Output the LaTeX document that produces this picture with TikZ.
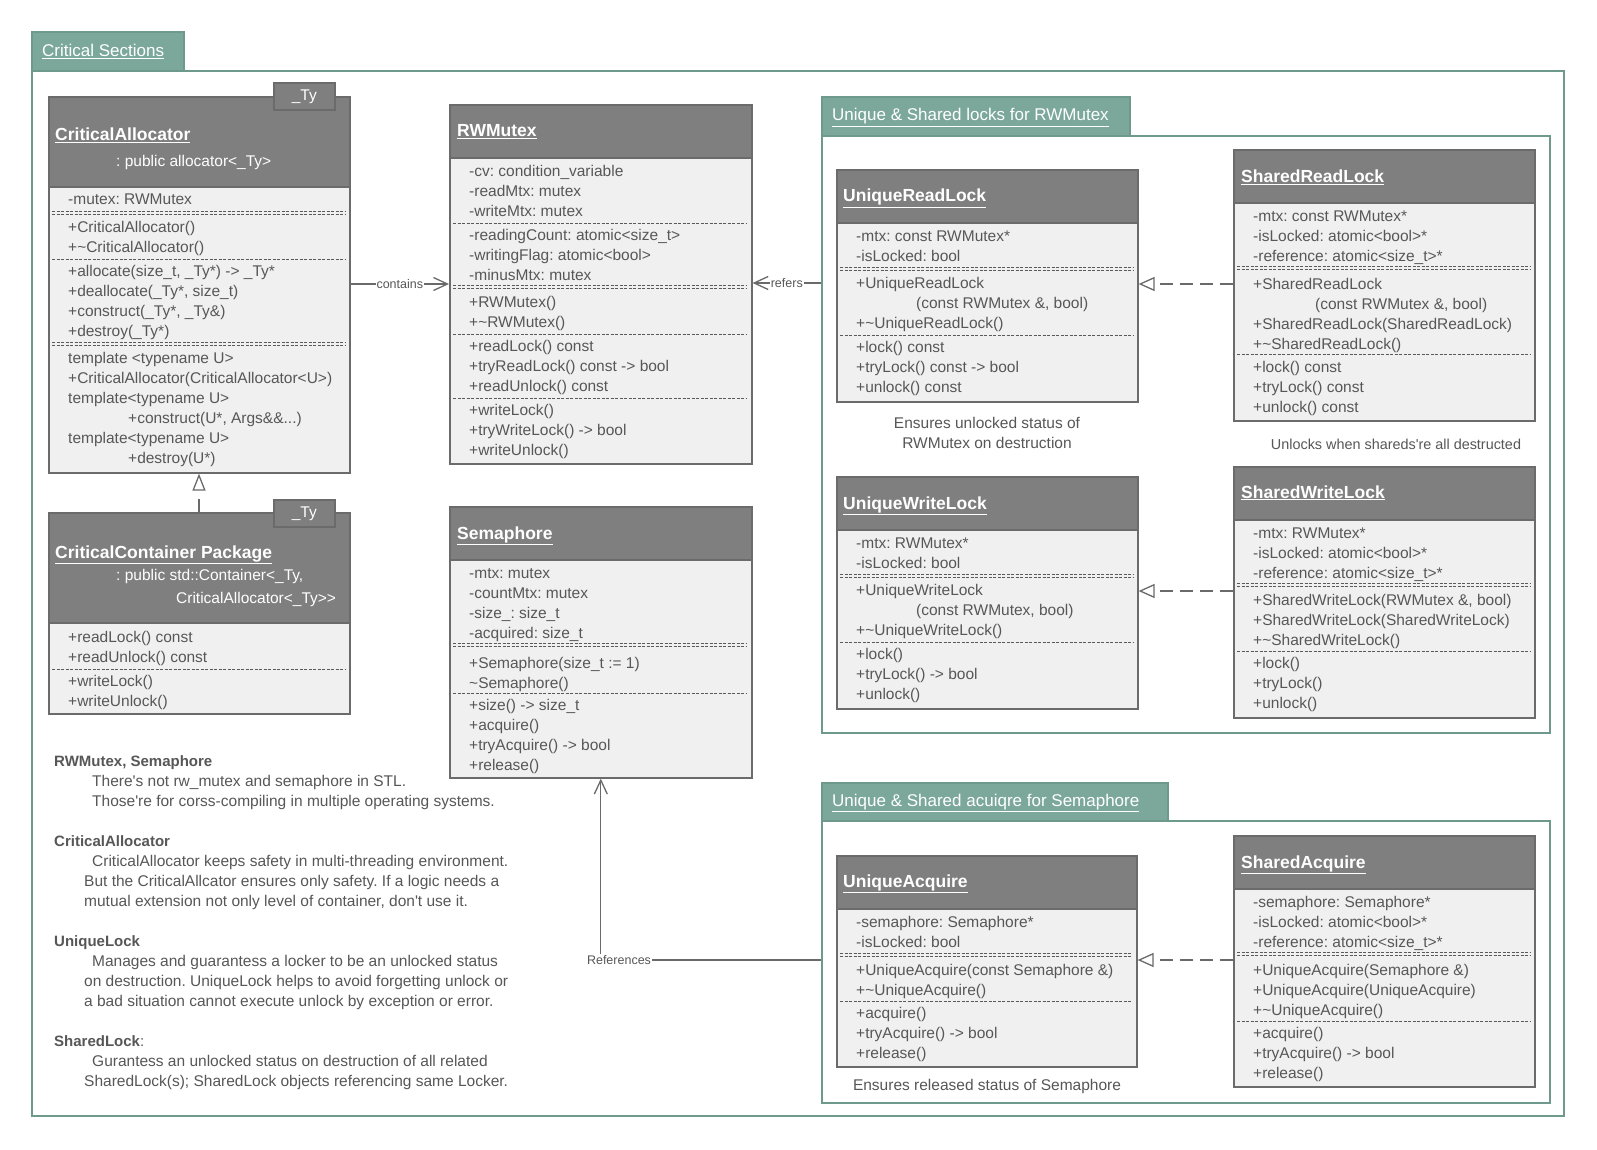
\documentclass[tikz,border=0pt]{standalone}
\usepackage{fontspec}
\setmainfont{Liberation Sans}
\usetikzlibrary{arrows.meta}
\frenchspacing
\definecolor{hdrgray}{HTML}{7F7F7F}
\definecolor{bodygray}{HTML}{F0F0F0}
\definecolor{boxline}{HTML}{6B6B6B}
\definecolor{txtgray}{HTML}{575757}
\definecolor{sepgray}{HTML}{5A5A5A}
\definecolor{conngray}{HTML}{6A6A6A}
\definecolor{tabfill}{HTML}{7BA89B}
\definecolor{frameline}{HTML}{6E9A8D}
\newcommand\fBody{\fontsize{15.5}{18}\selectfont\frenchspacing}
\newcommand\fTitle{\fontsize{17.5}{20}\selectfont\bfseries}
\newcommand\fTab{\fontsize{17}{20}\selectfont}
\newcommand\fLbl{\fontsize{12.5}{14}\selectfont}
\newcommand\fNoteHd{\fontsize{15}{18}\selectfont\bfseries}
\newcommand\fSmall{\fontsize{14.4}{17}\selectfont\frenchspacing}
\tikzset{
 hdrbox/.style={draw=boxline, fill=hdrgray, line width=1.6pt, inner sep=0pt, anchor=north west},
 bodybox/.style={draw=boxline, fill=bodygray, line width=1.6pt, inner sep=0pt, anchor=north west},
 rowtxt/.style={anchor=base west, inner sep=0pt, text=txtgray, font=\fBody},
 ttl/.style={anchor=base west, inner sep=0pt, text=white, font=\fTitle},
 subttl/.style={anchor=base west, inner sep=0pt, text=white, font=\fBody},
 tytab/.style={draw=boxline, fill=hdrgray, line width=1.6pt, inner sep=0pt, text=white, font=\fBody, anchor=north west, minimum width=61pt, minimum height=27pt},
 grpframe/.style={draw=frameline, fill=white, line width=1.6pt, inner sep=0pt, anchor=north west},
 grptab/.style={draw=frameline, fill=tabfill, line width=1.6pt, inner sep=0pt, anchor=north west},
 tabtxt/.style={anchor=base west, inner sep=0pt, text=white, font=\fTab},
 sepline/.style={draw=sepgray, line width=0.9pt, dash pattern=on 3pt off 1.5pt},
 conn/.style={draw=conngray, line width=1.3pt},
 assoc/.style={conn, -{Straight Barb[length=14pt,width=13pt]}},
 realize/.style={conn, dash pattern=on 13pt off 7pt, -{Triangle[open,length=16pt,width=14pt]}},
 realizev/.style={conn, dash pattern=on 13pt off 9pt, -{Triangle[open,length=17pt,width=13pt]}},
 lbl/.style={fill=white, inner sep=1pt, text=txtgray, font=\fLbl},
 note/.style={anchor=base west, inner sep=0pt, text=txtgray, font=\fBody},
 notehd/.style={anchor=base west, inner sep=0pt, text=txtgray, font=\fNoteHd},
 cmt/.style={anchor=base, inner sep=0pt, text=txtgray, font=\fBody},
}
% name, left, top, right, header bottom, bottom
\newcommand\umlclass[6]{%
  \node[hdrbox, minimum width={(#4-#2)*1pt}, minimum height={(#5-#3)*1pt}] (#1-h) at (#2,#3) {};
  \node[bodybox, minimum width={(#4-#2)*1pt}, minimum height={(#6-#5)*1pt}] (#1-b) at (#2,#5) {};
}
% prefix, x, first centre y, list
\newcommand\rowlist[4]{%
  \foreach \rtx [count=\ri] in {#4} {
    \node[rowtxt] (#1-\ri) at (#2, {#3+20*(\ri-1)+5.5}) {\rtx};
  }
}
\newcommand\sepA[3]{\draw[sepline] ({#1+4},#3) -- ({#2-4},#3);}
\newcommand\sepB[3]{\draw[sepline] ({#1+4},{#3-1.6}) -- ({#2-4},{#3-1.6});
  \draw[sepline] ({#1+4},{#3+1.6}) -- ({#2-4},{#3+1.6});}
\begin{document}
\begin{tikzpicture}[x=1pt,y=-1pt]
\useasboundingbox (0,0) rectangle (1597,1150);
\fill[white] (0,0) rectangle (1597,1150);

% outer frame
\node[grpframe, minimum width=1532pt, minimum height=1045pt] (cs) at (31,70) {};
\node[grptab, minimum width=152pt, minimum height=39pt] (cs-tab) at (31,31) {};
\node[tabtxt] (cs-t) at (42,57) {\underline{Critical Sections}};

% group 1
\node[grpframe, minimum width=728pt, minimum height=597pt] (g1) at (821,135) {};
\node[grptab, minimum width=308pt, minimum height=39pt] (g1-tab) at (821,96) {};
\node[tabtxt] (g1-t) at (832,121) {\underline{Unique \& Shared locks for RWMutex}};

% group 2
\node[grpframe, minimum width=728pt, minimum height=282pt] (g2) at (821,820) {};
\node[grptab, minimum width=346pt, minimum height=38pt] (g2-tab) at (821,782) {};
\node[tabtxt] (g2-t) at (832,806) {\underline{Unique \& Shared acuiqre for Semaphore}};

% CriticalAllocator
\umlclass{ca}{48}{96}{349}{186}{472}
\node[tytab] (ca-ty) at (273,82) {\_Ty};
\node[ttl] (ca-n) at (55,141) {\underline{CriticalAllocator}};
\node[subttl] (ca-s) at (116,166.5) {: public allocator<\_Ty>};
\rowlist{ca1}{68}{199}{{-mutex: RWMutex}}
\sepB{48}{349}{213}
\rowlist{ca2}{68}{227}{{+CriticalAllocator()},{+\textasciitilde CriticalAllocator()}}
\sepA{48}{349}{259}
\rowlist{ca3}{68}{271}{{+allocate(size\_t, \_Ty*) -> \_Ty*},{+deallocate(\_Ty*, size\_t)},{+construct(\_Ty*, \_Ty\&)},{+destroy(\_Ty*)}}
\sepB{48}{349}{344}
\rowlist{ca4}{68}{358}{{template <typename U>},{+CriticalAllocator(CriticalAllocator<U>)},{template<typename U>},{\hspace*{60pt}+construct(U*, Args\&\&.{}.{}.)},{template<typename U>},{\hspace*{60pt}+destroy(U*)}}

% CriticalContainer
\umlclass{cc}{48}{512}{349}{622}{713}
\node[tytab] (cc-ty) at (273,499) {\_Ty};
\node[ttl] (cc-n) at (55,558) {\underline{CriticalContainer Package}};
\node[subttl] (cc-s1) at (116,580.5) {: public std::Container<\_Ty,};
\node[subttl] (cc-s2) at (176,603.5) {CriticalAllocator<\_Ty>{}>};
\rowlist{cc1}{68}{637}{{+readLock() const},{+readUnlock() const}}
\sepA{48}{349}{669}
\rowlist{cc2}{68}{681}{{+writeLock()},{+writeUnlock()}}

% RWMutex
\umlclass{rw}{449}{104}{751}{157}{463}
\node[ttl] (rw-n) at (457,137) {\underline{RWMutex}};
\rowlist{rw1}{469}{171}{{-cv: condition\_variable},{-readMtx: mutex},{-writeMtx: mutex}}
\sepA{449}{751}{223}
\rowlist{rw2}{469}{235}{{-readingCount: atomic<size\_t>},{-writingFlag: atomic<bool>},{-minusMtx: mutex}}
\sepB{449}{751}{287}
\rowlist{rw3}{469}{302}{{+RWMutex()},{+\textasciitilde RWMutex()}}
\sepA{449}{751}{334}
\rowlist{rw4}{469}{346}{{+readLock() const},{+tryReadLock() const -> bool},{+readUnlock() const}}
\sepA{449}{751}{398}
\rowlist{rw5}{469}{410}{{+writeLock()},{+tryWriteLock() -> bool},{+writeUnlock()}}

% Semaphore
\umlclass{sem}{449}{506}{751}{559}{777}
\node[ttl] (sem-n) at (457,539) {\underline{Semaphore}};
\rowlist{sem1}{469}{573}{{-mtx: mutex},{-countMtx: mutex},{-size\_: size\_t},{-acquired: size\_t}}
\sepB{449}{751}{645}
\rowlist{sem2}{469}{663}{{+Semaphore(size\_t := 1)},{\textasciitilde Semaphore()}}
\sepA{449}{751}{693}
\rowlist{sem3}{469}{705}{{+size() -> size\_t},{+acquire()},{+tryAcquire() -> bool},{+release()}}

% UniqueReadLock
\umlclass{url}{836}{169}{1137}{222}{401}
\node[ttl] (url-n) at (843,202) {\underline{UniqueReadLock}};
\rowlist{url1}{856}{236}{{-mtx: const RWMutex*},{-isLocked: bool}}
\sepB{836}{1137}{269}
\rowlist{url2}{856}{283}{{+UniqueReadLock},{\hspace*{60pt}(const RWMutex \&, bool)},{+\textasciitilde UniqueReadLock()}}
\sepA{836}{1137}{335}
\rowlist{url3}{856}{347}{{+lock() const},{+tryLock() const -> bool},{+unlock() const}}

% SharedReadLock
\umlclass{srl}{1233}{149}{1534}{202}{420}
\node[ttl] (srl-n) at (1241,183) {\underline{SharedReadLock}};
\rowlist{srl1}{1253}{216}{{-mtx: const RWMutex*},{-isLocked: atomic<bool>*},{-reference: atomic<size\_t>*}}
\sepB{1233}{1534}{268}
\rowlist{srl2}{1253}{284}{{+SharedReadLock},{\hspace*{62pt}(const RWMutex \&, bool)},{+SharedReadLock(SharedReadLock)},{+\textasciitilde SharedReadLock()}}
\sepA{1233}{1534}{354}
\rowlist{srl3}{1253}{367}{{+lock() const},{+tryLock() const},{+unlock() const}}

% UniqueWriteLock
\umlclass{uwl}{836}{476}{1137}{529}{708}
\node[ttl] (uwl-n) at (843,509) {\underline{UniqueWriteLock}};
\rowlist{uwl1}{856}{543}{{-mtx: RWMutex*},{-isLocked: bool}}
\sepB{836}{1137}{576}
\rowlist{uwl2}{856}{590}{{+UniqueWriteLock},{\hspace*{60pt}(const RWMutex, bool)},{+\textasciitilde UniqueWriteLock()}}
\sepA{836}{1137}{642}
\rowlist{uwl3}{856}{654}{{+lock()},{+tryLock() -> bool},{+unlock()}}

% SharedWriteLock
\umlclass{swl}{1233}{466}{1534}{519}{717}
\node[ttl] (swl-n) at (1241,498) {\underline{SharedWriteLock}};
\rowlist{swl1}{1253}{533}{{-mtx: RWMutex*},{-isLocked: atomic<bool>*},{-reference: atomic<size\_t>*}}
\sepB{1233}{1534}{585}
\rowlist{swl2}{1253}{600}{{+SharedWriteLock(RWMutex \&, bool)},{+SharedWriteLock(SharedWriteLock)},{+\textasciitilde SharedWriteLock()}}
\sepA{1233}{1534}{651}
\rowlist{swl3}{1253}{663}{{+lock()},{+tryLock()},{+unlock()}}

% UniqueAcquire
\umlclass{ua}{836}{855}{1136}{908}{1066}
\node[ttl] (ua-n) at (843,887) {\underline{UniqueAcquire}};
\rowlist{ua1}{856}{922}{{-semaphore: Semaphore*},{-isLocked: bool}}
\sepB{836}{1136}{955}
\rowlist{ua2}{856}{970}{{+UniqueAcquire(const Semaphore \&)},{+\textasciitilde UniqueAcquire()}}
\sepA{836}{1136}{1001}
\rowlist{ua3}{856}{1013}{{+acquire()},{+tryAcquire() -> bool},{+release()}}

% SharedAcquire
\umlclass{sa}{1233}{835}{1534}{888}{1086}
\node[ttl] (sa-n) at (1241,868) {\underline{SharedAcquire}};
\rowlist{sa1}{1253}{902}{{-semaphore: Semaphore*},{-isLocked: atomic<bool>*},{-reference: atomic<size\_t>*}}
\sepB{1233}{1534}{954}
\rowlist{sa2}{1253}{970}{{+UniqueAcquire(Semaphore \&)},{+UniqueAcquire(UniqueAcquire)},{+\textasciitilde UniqueAcquire()}}
\sepA{1233}{1534}{1021}
\rowlist{sa3}{1253}{1033}{{+acquire()},{+tryAcquire() -> bool},{+release()}}

% comments
\node[cmt] (c1a) at (987,428.5) {Ensures unlocked status of};
\node[cmt] (c1b) at (987,448.5) {RWMutex on destruction};
\node[cmt, font=\fSmall] (c2) at (1396,449) {Unlocks when shareds\textquotesingle re all destructed};
\node[cmt] (c3) at (987,1090.5) {Ensures released status of Semaphore};

% connectors
\draw[assoc] (ca-b.east |- 0,284) -- node[lbl] (l-contains) {contains} (rw-b.west |- 0,284);
\draw[assoc] (g1.west |- 0,283) -- node[lbl] (l-refers) {refers} (rw-b.east |- 0,283);
\draw[realize] (srl-b.west |- 0,284) -- (url-b.east |- 0,284);
\draw[realize] (swl-b.west |- 0,591) -- (uwl-b.east |- 0,591);
\draw[realize] (sa-b.west |- 0,960) -- (ua-b.east |- 0,960);
\draw[realizev] (cc-h.north -| 199,0) -- (ca-b.south -| 199,0);
\draw[assoc] (g2.west |- 0,960) -| (sem-b.south);
\node[lbl] (l-refs) at (619,960) {References};

% notes
\node[notehd] (n1h) at (54,766.5) {RWMutex, Semaphore};
\node[note] (n1a) at (92,786.5) {There\textquotesingle s not rw\_mutex and semaphore in STL.};
\node[note] (n1b) at (92,806.5) {Those\textquotesingle re for corss-compiling in multiple operating systems.};
\node[notehd] (n2h) at (54,846.5) {CriticalAllocator};
\node[note] (n2a) at (92,866.5) {CriticalAllocator keeps safety in multi-threading environment.};
\node[note] (n2b) at (84,886.5) {But the CriticalAllcator ensures only safety. If a logic needs a};
\node[note] (n2c) at (84,906.5) {mutual extension not only level of container, don\textquotesingle t use it.};
\node[notehd] (n3h) at (54,946.5) {UniqueLock};
\node[note] (n3a) at (92,966.5) {Manages and guarantess a locker to be an unlocked status};
\node[note] (n3b) at (84,986.5) {on destruction. UniqueLock helps to avoid forgetting unlock or};
\node[note] (n3c) at (84,1006.5) {a bad situation cannot execute unlock by exception or error.};
\node[notehd] (n4h) at (54,1046.5) {SharedLock\textmd{:}};
\node[note] (n4a) at (92,1066.5) {Gurantess an unlocked status on destruction of all related};
\node[note] (n4b) at (84,1086.5) {SharedLock(s); SharedLock objects referencing same Locker.};
\end{tikzpicture}
\end{document}
